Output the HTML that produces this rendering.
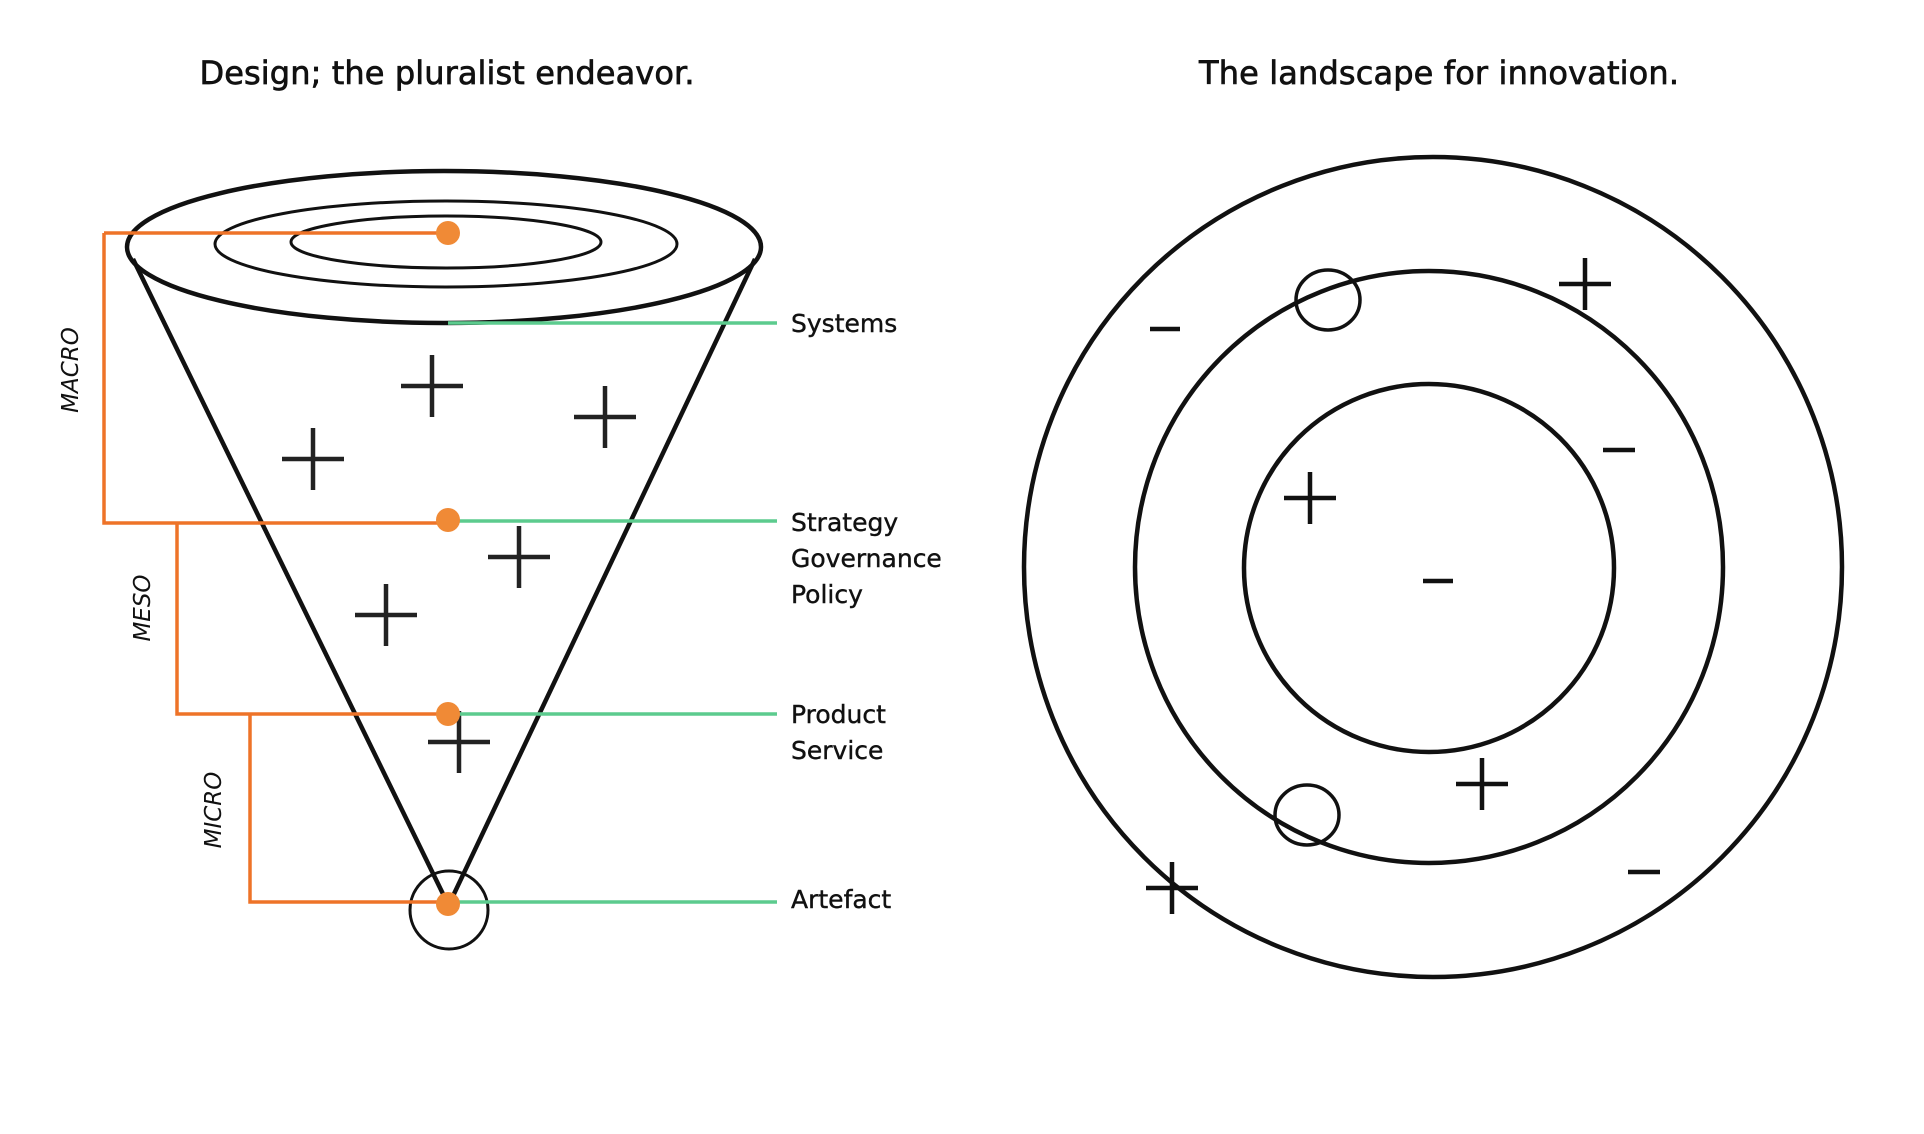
<!DOCTYPE html>
<html><head><meta charset="utf-8"><style>
html,body{margin:0;padding:0;background:#fff;}
svg{display:block;}
text{font-family:"DejaVu Sans","Liberation Sans",sans-serif;fill:#111;}
</style></head><body>
<svg width="1924" height="1134" viewBox="0 0 1924 1134" xmlns="http://www.w3.org/2000/svg">
<text x="447" y="84" font-size="32" text-anchor="middle" style="stroke:#111;stroke-width:0.7px" textLength="495">Design; the pluralist endeavor.</text>
<text x="1439" y="84" font-size="32" text-anchor="middle" style="stroke:#111;stroke-width:0.7px" textLength="480">The landscape for innovation.</text>

<g fill="none" stroke="#111" stroke-width="4.5">
<line x1="133" y1="259" x2="444" y2="896"/>
<line x1="755" y1="259" x2="453" y2="896"/>
<ellipse cx="444" cy="247" rx="317" ry="76"/>
</g>
<g fill="none" stroke="#111" stroke-width="3">
<ellipse cx="446" cy="244" rx="231" ry="43"/>
<ellipse cx="446" cy="242" rx="155" ry="26"/>
<circle cx="449" cy="910" r="39"/>
</g>
<g stroke="#222" stroke-width="4.5">
<path d="M401 386h62M432 355v62"/>
<path d="M282 459h62M313 428v62"/>
<path d="M574 417h62M605 386v62"/>
<path d="M488 557h62M519 526v62"/>
<path d="M355 615h62M386 584v62"/>
<path d="M428 742h62M459 711v62"/>
</g>
<g stroke="#5ccb8e" stroke-width="3.5">
<line x1="448" y1="323" x2="777" y2="323"/>
<line x1="448" y1="521" x2="777" y2="521"/>
<line x1="448" y1="714" x2="777" y2="714"/>
<line x1="448" y1="902" x2="777" y2="902"/>
</g>
<g stroke="#ee7328" stroke-width="3.5" fill="none">
<path d="M104 233H448M104 233V523H448"/>
<path d="M177 523V714H448"/>
<path d="M250 714V902H448"/>
</g>
<g fill="#f08a36">
<circle cx="448" cy="233" r="12"/>
<circle cx="448" cy="520" r="12"/>
<circle cx="448" cy="714" r="12"/>
<circle cx="448" cy="904" r="12"/>
</g>
<g font-size="25" style="stroke:#111;stroke-width:0.4px">
<text x="791" y="332">Systems</text>
<text x="791" y="531">Strategy</text>
<text x="791" y="567">Governance</text>
<text x="791" y="603">Policy</text>
<text x="791" y="723">Product</text>
<text x="791" y="759">Service</text>
<text x="791" y="908">Artefact</text>
</g>
<g font-size="23" font-style="italic" text-anchor="middle">
<text transform="translate(78,370) rotate(-90)">MACRO</text>
<text transform="translate(150,608) rotate(-90)">MESO</text>
<text transform="translate(221,810) rotate(-90)">MICRO</text>
</g>

<g fill="none" stroke="#111" stroke-width="4.5">
<ellipse cx="1433" cy="567" rx="409" ry="410"/>
<ellipse cx="1429" cy="567" rx="294" ry="296"/>
<ellipse cx="1429" cy="568" rx="185" ry="184"/>
</g>
<g fill="none" stroke="#111" stroke-width="3.5">
<ellipse cx="1328" cy="300" rx="32" ry="30"/>
<ellipse cx="1307" cy="815" rx="32" ry="30"/>
</g>
<g stroke="#111" stroke-width="4.5">
<path d="M1559 284h52M1585 258v52"/>
<path d="M1284 498h52M1310 472v52"/>
<path d="M1456 784h52M1482 758v52"/>
<path d="M1146 888h52M1172 862v52"/>
<path d="M1150 329h30"/>
<path d="M1603 450h32"/>
<path d="M1423 581h30"/>
<path d="M1628 872h32"/>
</g>
</svg>
</body></html>
